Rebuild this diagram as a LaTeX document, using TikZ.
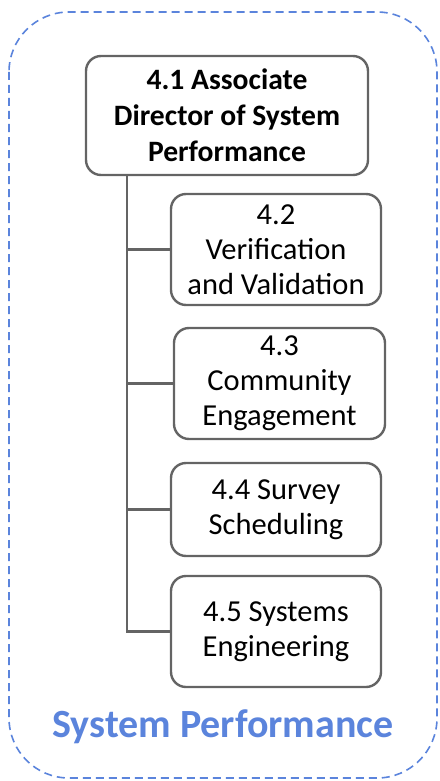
\documentclass[tikz,border=0pt]{standalone}
\usepackage{fontspec}
\setmainfont{Carlito}
\usepackage{tikz}
\usetikzlibrary{positioning, shapes.geometric}
\definecolor{perfblue}{HTML}{5B84DC}
\definecolor{boxgray}{HTML}{646464}
\tikzset{
  boxA/.style={ draw=boxgray, line width=2.4pt, rounded corners=15pt, align=center,
    inner sep=0pt, font=\fontsize{29.6}{36}\selectfont\bfseries }
}
\tikzset{
  boxB/.style={ draw=boxgray, line width=2.4pt, rounded corners=15pt, align=center,
    inner sep=0pt, font=\fontsize{30.5}{35}\selectfont }
}
\tikzset{
  frameC/.style={ draw=perfblue, line width=1.6pt, dash pattern=on 8pt off 5pt, rounded corners=60pt }
}
\tikzset{
  linkD/.style={ draw=boxgray, line width=2.4pt }
}

\begin{document}
\begin{tikzpicture}[y=-1pt, x=1pt]
      \useasboundingbox (0,0) rectangle (439,781);
      \draw[frameC] (9,12) rectangle (437,778);

      \node[boxA, minimum width=282pt, minimum height=119pt] (b1) at (227, 115.5) {4.1 Associate\\Director of System\\Performance};
      \node[boxB, minimum width=210pt, minimum height=111pt] (b2) at (276, 249.5) {4.2\\Verification\\and Validation};
      \node[boxB, minimum width=211pt, minimum height=111pt] (b3) at (279.5, 383.5) {4.3\\Community\\Engagement};
      \node[boxB, minimum width=210pt, minimum height=93pt] (b4) at (276, 509.5) {4.4 Survey\\Scheduling};
      \node[boxB, minimum width=210pt, minimum height=111pt] (b5) at (276, 631.5) {4.5 Systems\\Engineering};

      \coordinate (trunk) at (127, 0);
      \draw[linkD] (b1.south -| trunk) |- (b5.west);
      \draw[linkD] (b2.west) -- (b2.west -| trunk);
      \draw[linkD] (b3.west) -- (b3.west -| trunk);
      \draw[linkD] (b4.west) -- (b4.west -| trunk);

      \node[text=perfblue, font=\fontsize{40}{44}\selectfont\bfseries] (title) at (223, 727) {System Performance};
    \end{tikzpicture}
\end{document}
